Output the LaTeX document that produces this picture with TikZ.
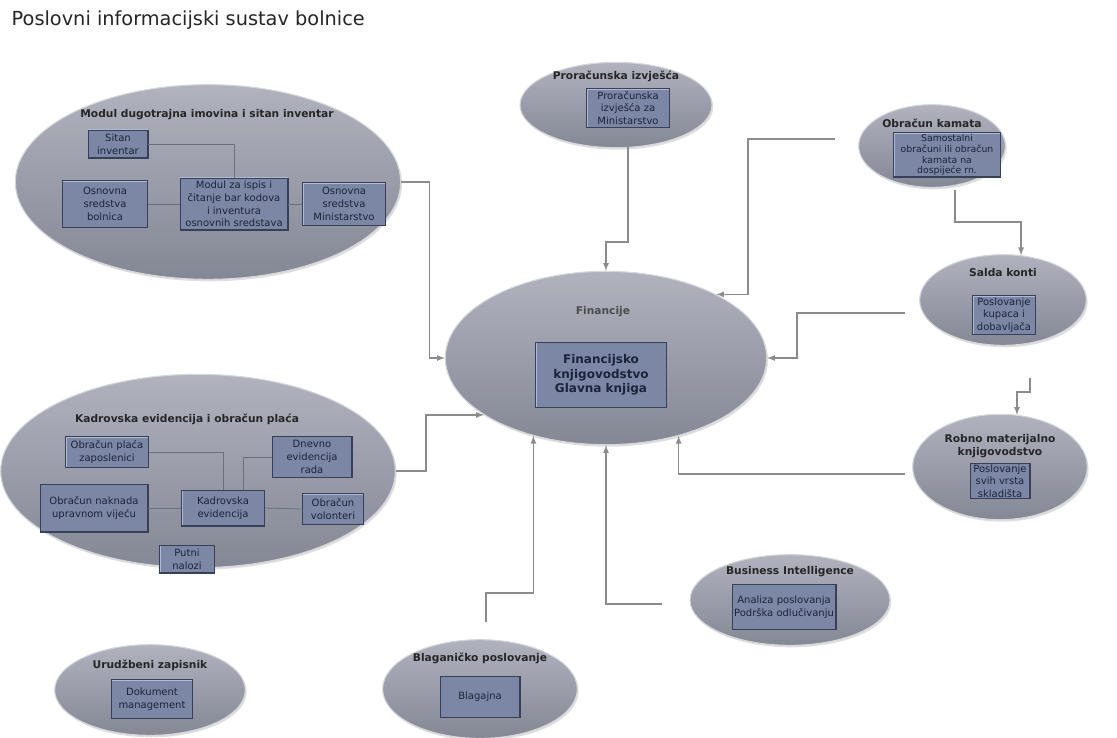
\documentclass[tikz,border=0pt]{standalone}
\usepackage{fontspec}
\setmainfont{DejaVu Sans}
\usetikzlibrary{shapes.geometric,shadows}

\definecolor{bubbletop}{RGB}{176,179,190}
\definecolor{bubblemid}{RGB}{156,159,172}
\definecolor{bubblebot}{RGB}{132,135,148}
\definecolor{bubbleedge}{RGB}{212,214,220}
\definecolor{boxfill}{RGB}{124,135,166}
\definecolor{boxedge}{RGB}{56,64,88}
\definecolor{boxlight}{RGB}{176,186,210}
\definecolor{boxtext}{RGB}{28,36,58}
\definecolor{connline}{RGB}{140,140,140}
\definecolor{linkline}{RGB}{108,112,126}

\begin{document}
\begin{tikzpicture}[x=0.75pt,y=-0.75pt,
   bubble/.style={ellipse, draw=bubbleedge, line width=0.8pt, top color=bubbletop, middle color=bubblemid, bottom color=bubblebot,
      drop shadow={opacity=0.25,shadow xshift=1pt,shadow yshift=-1.5pt}, inner sep=0pt},
   modbox/.style={rectangle, draw=boxedge, line width=0.6pt, fill=boxfill, text=boxtext, align=center,
      inner sep=1pt, font=\fontsize{7.5}{9.5}\selectfont,
      path picture={\draw[boxlight,line width=1.4pt] (path picture bounding box.south west) |- (path picture bounding box.north east);
         \draw[boxedge,line width=1.2pt] (path picture bounding box.south west) -| (path picture bounding box.north east);}},
   btitle/.style={align=center, text=black!85, font=\fontsize{8}{9.5}\selectfont\bfseries},
   conn/.style={->, >=latex, connline, line width=1pt},
   link/.style={linkline, line width=0.6pt}]
   \useasboundingbox (0,0) rectangle (1117,738);

   \node[anchor=west, text=black!85, font=\fontsize{14.5}{17}\selectfont] (head) at (7,20) {Poslovni informacijski sustav bolnice};

   % modul dugotrajna imovina
   \node[bubble, minimum width=289pt, minimum height=146pt] (modul) at (208,182) {};
   \node[btitle] (modul-t) at (207,115) {Modul dugotrajna imovina i sitan inventar};
   \node[modbox, minimum width=45pt, minimum height=21pt] (sitan) at (118,144) {Sitan\\inventar};
   \node[modbox, minimum width=64pt, minimum height=35pt] (bolnica) at (105,204) {Osnovna\\sredstva\\bolnica};
   \node[modbox, minimum width=81pt, minimum height=39pt] (modprint) at (234,204) {Modul za ispis i\\čitanje bar kodova\\i inventura\\osnovnih sredstava};
   \node[modbox, minimum width=62pt, minimum height=32pt] (minist) at (344,204) {Osnovna\\sredstva\\Ministarstvo};
   \draw[link] (sitan.east) -| (modprint.north);
   \draw[link] (bolnica.east) -- (modprint.west);
   \draw[link] (modprint.east) -- (minist.west);

   % kadrovska evidencija
   \node[bubble, minimum width=296pt, minimum height=145pt] (kadr) at (198,471) {};
   \node[btitle] (kadr-t) at (187,419) {Kadrovska evidencija i obračun plaća};
   \node[modbox, minimum width=62pt, minimum height=23pt] (placa) at (107,452) {Obračun plaća\\zaposlenici};
   \node[modbox, minimum width=60pt, minimum height=31pt] (dnevno) at (312,457) {Dnevno\\evidencija\\rada};
   \node[modbox, minimum width=81pt, minimum height=36pt] (naknada) at (94,508) {Obračun naknada\\upravnom vijeću};
   \node[modbox, minimum width=62pt, minimum height=27pt] (kadev) at (223,508) {Kadrovska\\evidencija};
   \node[modbox, minimum width=46pt, minimum height=23pt] (volont) at (333,509) {Obračun\\volonteri};
   \node[modbox, minimum width=41pt, minimum height=21pt] (putni) at (187,559) {Putni\\nalozi};
   \draw[link] (placa.east) -| (kadev.north);
   \draw[link] (dnevno.west) -| ([xshift=15pt]kadev.north);
   \draw[link] (naknada.east) -- (kadev.west);
   \draw[link] (kadev.east) -- (volont.west);

   % financije
   \node[bubble, minimum width=241pt, minimum height=130pt] (fin) at (606,358) {};
   \node[btitle, text=black!70, font=\fontsize{8}{9.5}\selectfont\bfseries] (fin-t) at (603,312) {Financije};
   \node[modbox, minimum width=98pt, minimum height=49pt, font=\fontsize{9}{11}\selectfont\bfseries] (finbox) at (601,375) {Financijsko\\knjigovodstvo\\Glavna knjiga};

   % ostali moduli
   \node[bubble, minimum width=144pt, minimum height=64pt] (pror) at (616,105) {};
   \node[btitle] (pror-t) at (616,76) {Proračunska izvješća};
   \node[modbox, minimum width=62pt, minimum height=29pt] (prorbox) at (628,108) {Proračunska\\izvješća za\\Ministarstvo};

   \node[bubble, minimum width=110pt, minimum height=62pt] (kam) at (932,146) {};
   \node[btitle] (kam-t) at (932,123) {Obračun kamata};
   \node[modbox, minimum width=80pt, minimum height=32pt, font=\fontsize{7}{8.2}\selectfont] (kambox) at (947,155) {Samostalni\\obračuni ili obračun\\kamata na\\dospijeće rn.};

   \node[bubble, minimum width=125pt, minimum height=68pt] (sal) at (1003,300) {};
   \node[btitle] (sal-t) at (1003,273) {Salda konti};
   \node[modbox, minimum width=47pt, minimum height=29pt] (salbox) at (1004,315) {Poslovanje\\kupaca i\\dobavljača};

   \node[bubble, minimum width=131pt, minimum height=79pt] (rob) at (1000,467) {};
   \node[btitle] (rob-t) at (1000,446) {Robno materijalno\\knjigovodstvo};
   \node[modbox, minimum width=45pt, minimum height=26pt] (robbox) at (1000,481) {Poslovanje\\svih vrsta\\skladišta};

   \node[bubble, minimum width=150pt, minimum height=68pt] (bi) at (790,600) {};
   \node[btitle] (bi-t) at (790,572) {Business Intelligence};
   \node[modbox, minimum width=78pt, minimum height=34pt] (bibox) at (784,607) {Analiza poslovanja\\Podrška odlučivanju};

   \node[bubble, minimum width=146pt, minimum height=74pt] (blag) at (480,689) {};
   \node[btitle] (blag-t) at (480,658) {Blaganičko poslovanje};
   \node[modbox, minimum width=60pt, minimum height=31pt] (blagbox) at (480,697) {Blagajna};

   \node[bubble, minimum width=143pt, minimum height=68pt] (urud) at (150,690) {};
   \node[btitle] (urud-t) at (150,665) {Urudžbeni zapisnik};
   \node[modbox, minimum width=61pt, minimum height=29pt] (urudbox) at (152,699) {Dokument\\management};

   % veze prema financijama
   \coordinate (pror-out) at (628,142);
   \coordinate (kam-out) at (835,139);
   \coordinate (sal-out) at (905,313);
   \coordinate (rob-out) at (905,474);
   \coordinate (bi-out) at (662,604);
   \coordinate (blag-out) at (486,622);
   \coordinate (kam-low) at (955,190);
   \coordinate (sal-low) at (1030,378);
   \draw[conn] (modul.east) -- ++(28,0) |- (fin.west);
   \draw[conn] (kadr.east) -- ++(30,0) |- (fin.205);
   \draw[conn] (pror-out) -- ++(0,100) -| (fin.north);
   \draw[conn] (kam-out) -- ++(-87,0) |- (fin.30);
   \draw[conn] (sal-out) -- ++(-108,0) |- (fin.east);
   \draw[conn] (rob-out) -| (fin.-47);
   \draw[conn] (bi-out) -| (fin.south);
   \draw[conn] (blag-out) -- ++(0,-29) -| (fin.-133);
   \draw[conn] (kam-low) -- ++(0,32) -| (sal.68);
   \draw[conn] (sal-low) -- ++(0,14) -| (rob.72);
\end{tikzpicture}
\end{document}
